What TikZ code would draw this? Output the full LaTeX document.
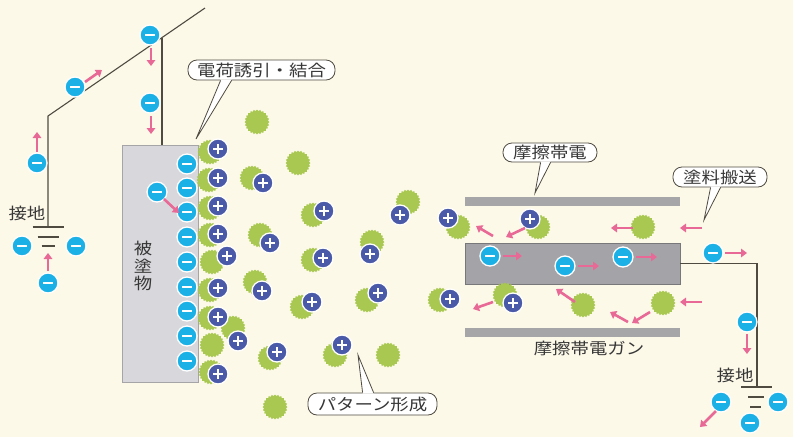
\documentclass[tikz,border=0pt]{standalone}
\usepackage{fontspec}
\newfontfamily\jp{Noto Sans CJK JP}[FakeStretch=1.15]
\usetikzlibrary{shapes.geometric,arrows.meta,calc}

\definecolor{bgcream}{RGB}{253,249,233}
\definecolor{ioncyan}{RGB}{27,176,230}
\definecolor{plusblue}{RGB}{74,90,168}
\definecolor{blobgreen}{RGB}{168,200,82}
\definecolor{arrowpink}{RGB}{232,104,150}
\definecolor{boxgray}{RGB}{216,216,220}
\definecolor{boxedge}{RGB}{165,165,168}
\definecolor{plategray}{RGB}{166,166,168}
\definecolor{bargray}{RGB}{164,164,168}
\definecolor{baredge}{RGB}{120,120,122}
\definecolor{wiregray}{RGB}{80,75,65}
\definecolor{txtgray}{RGB}{55,55,55}

\tikzset{
  negcharge/.style={circle,fill=ioncyan,draw=white,line width=1.3pt,minimum size=20pt,inner sep=0pt,
    path picture={\fill[white] ($(path picture bounding box.center)+(-5pt,-1.4pt)$)
      rectangle ($(path picture bounding box.center)+(5pt,1.4pt)$);}},
  poscharge/.style={circle,fill=plusblue,draw=white,line width=1.3pt,minimum size=20pt,inner sep=0pt,
    path picture={\fill[white] ($(path picture bounding box.center)+(-5pt,-1.4pt)$)
      rectangle ($(path picture bounding box.center)+(5pt,1.4pt)$);
      \fill[white] ($(path picture bounding box.center)+(-1.4pt,-5pt)$)
      rectangle ($(path picture bounding box.center)+(1.4pt,5pt)$);}},
  blob/.style={star,star points=24,star point ratio=1.13,minimum size=25pt,inner sep=0pt,
    fill=blobgreen,draw=none},
  flow/.style={draw=arrowpink,line width=2.6pt,-{Triangle[length=6pt,width=8.5pt]}},
  wire/.style={draw=wiregray,line width=1.1pt},
  callout/.style={draw=wiregray,fill=white,rounded corners=9pt,line width=.8pt,inner sep=0pt,
    font=\jp\fontsize{16}{18}\selectfont,text=txtgray},
  callline/.style={draw=wiregray,line width=.8pt},
  tag/.style={font=\jp\fontsize{16}{17.5}\selectfont,text=txtgray,align=center,inner sep=0pt},
  objbox/.style={draw=boxedge,fill=boxgray,line width=.8pt,minimum width=76pt,
    minimum height=237pt,inner sep=0pt},
  plate/.style={fill=plategray,minimum width=215pt,minimum height=9pt,inner sep=0pt},
  gunbar/.style={fill=bargray,draw=baredge,line width=.8pt,minimum width=215pt,
    minimum height=41pt,inner sep=0pt}
}

\begin{document}
\begin{tikzpicture}[x=1pt,y=-1pt]
  \useasboundingbox (0,0) rectangle (793,437);
  \fill[bgcream] (0,0) rectangle (793,437);

  % work piece and friction gun
  \node[objbox] (obj) at (160,263.5) {};
  \node[tag] (objlab) at (143,266) {被\\塗\\物};
  \node[plate] (plate1) at (572.5,201.5) {};
  \node[gunbar] (bar) at (572.5,263.5) {};
  \node[plate] (plate2) at (572.5,332.5) {};
  \node[tag] (gunlab) at (589,348) {摩擦帯電ガン};

  % earth wires
  \coordinate (g1) at (48,227);
  \coordinate (c1) at (48,116);
  \coordinate (w1) at (205,8);
  \coordinate (j1) at (162,37.6);
  \draw[wire] (g1) -- (c1) -- (w1);
  \draw[wire] (j1) -- (j1 |- obj.north);
  \draw[wire] ($(g1)+(-15.5,0)$) -- ++(31,0);
  \draw[wire] ($(g1)+(-10.5,10)$) -- ++(21,0);
  \draw[wire] ($(g1)+(-6.5,19)$) -- ++(13,0);
  \node[tag] (gndlab1) at (27,213) {接地};

  \coordinate (g2) at (757,387);
  \draw[wire] (bar.east) -| (g2);
  \draw[wire] ($(g2)+(-16,0)$) -- ++(31,0);
  \draw[wire] ($(g2)+(-9,10)$) -- ++(16,0);
  \draw[wire] ($(g2)+(-7,20)$) -- ++(11,0);
  \node[tag] (gndlab2) at (735,375) {接地};

  % paint particles
  \begin{scope}[every node/.style={blob}]
    \node (b1)  at (210,152) {};
    \node (b2)  at (209,180) {};
    \node (b3)  at (210,208) {};
    \node (b4)  at (210,235) {};
    \node (b5)  at (212,262) {};
    \node (b6)  at (210,290) {};
    \node (b7)  at (210,318) {};
    \node (b8)  at (233,328) {};
    \node (b9)  at (212,345) {};
    \node (b10) at (211,372) {};
    \node (b11) at (257,122) {};
    \node (b12) at (298,163) {};
    \node (b13) at (252,178) {};
    \node (b14) at (313,215) {};
    \node (b15) at (260,235) {};
    \node (b16) at (408,202) {};
    \node (b17) at (372,242) {};
    \node (b18) at (313,260) {};
    \node (b19) at (458,227) {};
    \node (b20) at (255,282) {};
    \node (b21) at (302,307) {};
    \node (b22) at (367,300) {};
    \node (b23) at (440,300) {};
    \node (b24) at (270,358) {};
    \node (b25) at (335,355) {};
    \node (b26) at (388,355) {};
    \node (b27) at (275,407) {};
    \node (b28) at (538,227) {};
    \node (b29) at (643,227) {};
    \node (b30) at (505,295) {};
    \node (b31) at (583,305) {};
    \node (b32) at (663,303) {};
  \end{scope}

  % positive charges
  \begin{scope}[every node/.style={poscharge}]
    \node (p1)  at (218,149) {};
    \node (p2)  at (218,178) {};
    \node (p3)  at (218,206) {};
    \node (p4)  at (218,234) {};
    \node (p5)  at (227,256) {};
    \node (p6)  at (218,288) {};
    \node (p7)  at (218,317) {};
    \node (p8)  at (238,341) {};
    \node (p9)  at (218,374) {};
    \node (p10) at (263,183) {};
    \node (p11) at (324,211) {};
    \node (p12) at (270,243) {};
    \node (p13) at (400,215) {};
    \node (p14) at (370,254) {};
    \node (p15) at (323,258) {};
    \node (p16) at (448,218) {};
    \node (p17) at (262,291) {};
    \node (p18) at (312,302) {};
    \node (p19) at (378,293) {};
    \node (p20) at (450,299) {};
    \node (p21) at (277,352) {};
    \node (p22) at (342,345) {};
    \node (p23) at (530,219) {};
    \node (p24) at (513,303) {};
  \end{scope}

  % negative charges
  \begin{scope}[every node/.style={negcharge}]
    \node (m1)  at (150,35) {};
    \node (m2)  at (75,87) {};
    \node (m3)  at (150,103) {};
    \node (m4)  at (37,163) {};
    \node (m5)  at (22,246) {};
    \node (m6)  at (76,246) {};
    \node (m7)  at (48,283) {};
    \node (m8)  at (157,192) {};
    \node (m9)  at (187,164) {};
    \node (m10) at (187,188) {};
    \node (m11) at (187,212) {};
    \node (m12) at (187,237) {};
    \node (m13) at (187,262) {};
    \node (m14) at (187,287) {};
    \node (m15) at (187,311) {};
    \node (m16) at (187,336) {};
    \node (m17) at (187,361) {};
    \node (m18) at (490,256) {};
    \node (m19) at (565,266) {};
    \node (m20) at (623,257) {};
    \node (m21) at (713,253) {};
    \node (m22) at (747,322) {};
    \node (m23) at (721,402) {};
    \node (m24) at (778,402) {};
    \node (m25) at (750,423) {};
  \end{scope}

  % movements
  \draw[flow] (151,48) -- (151,66);
  \draw[flow] (85,82) -- (102,70);
  \draw[flow] (151,116) -- (151,134);
  \draw[flow] (37,152) -- (37,132);
  \draw[flow] (48,271) -- (48,253);
  \draw[flow] (164,199) -- (179,213);

  \draw[flow] (493,236) -- (476,226);
  \draw[flow] (525,228) -- (506,237);
  \draw[flow] (633,228) -- (611,228);
  \draw[flow] (702,228) -- (680,228);
  \draw[flow] (503,256) -- (522,256);
  \draw[flow] (578,266) -- (599,266);
  \draw[flow] (636,257) -- (657,257);
  \draw[flow] (725,253) -- (747,253);
  \draw[flow] (493,302) -- (473,309);
  \draw[flow] (575,302) -- (556,289);
  \draw[flow] (628,322) -- (610,312);
  \draw[flow] (650,312) -- (632,323);
  \draw[flow] (702,302) -- (680,302);
  \draw[flow] (747,334) -- (747,354);
  \draw[flow] (716,411) -- (700,427);

  % callouts
  \begin{scope}[every node/.style={callout}]
    \node[minimum width=147pt,minimum height=20pt] (lab1) at (261.5,70) {電荷誘引・結合};
    \node[minimum width=94pt,minimum height=19pt] (lab2) at (550,152.5) {摩擦帯電};
    \node[minimum width=94pt,minimum height=20pt] (lab3) at (720,177) {塗料搬送};
    \node[minimum width=129pt,minimum height=22pt] (lab4) at (372.5,404) {パターン形成};
  \end{scope}

  \coordinate (t1) at (196,139);
  \fill[white] ($(lab1.south west)+(33,-1)$) -- (t1) -- ($(lab1.south west)+(44,-1)$) -- cycle;
  \draw[callline] ($(lab1.south west)+(33,0)$) -- (t1) -- ($(lab1.south west)+(44,0)$);

  \coordinate (t2) at (535,193);
  \fill[white] ($(lab2.south west)+(38,-1)$) -- (t2) -- ($(lab2.south west)+(48,-1)$) -- cycle;
  \draw[callline] ($(lab2.south west)+(38,0)$) -- (t2) -- ($(lab2.south west)+(48,0)$);

  \coordinate (t3) at (704,220);
  \fill[white] ($(lab3.south west)+(38,-1)$) -- (t3) -- ($(lab3.south west)+(48,-1)$) -- cycle;
  \draw[callline] ($(lab3.south west)+(38,0)$) -- (t3) -- ($(lab3.south west)+(48,0)$);

  \coordinate (t4) at (358,355);
  \fill[white] ($(lab4.north west)+(55,1)$) -- (t4) -- ($(lab4.north west)+(66,1)$) -- cycle;
  \draw[callline] ($(lab4.north west)+(55,0)$) -- (t4) -- ($(lab4.north west)+(66,0)$);

\end{tikzpicture}
\end{document}
